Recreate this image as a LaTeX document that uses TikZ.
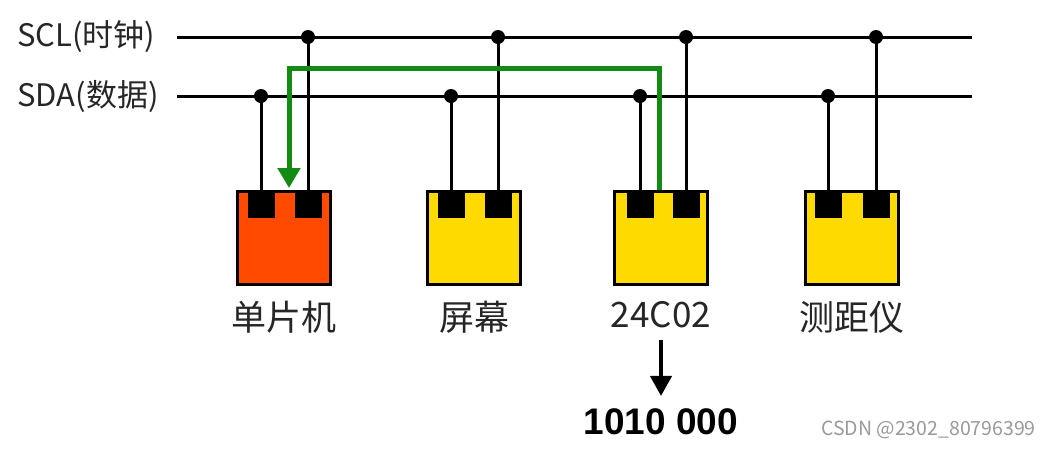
\documentclass[tikz,border=0pt]{standalone}
\usepackage{fontspec}
\setmainfont{Noto Sans CJK SC}
\newfontfamily\addrfont{Liberation Sans}
\usetikzlibrary{arrows.meta, positioning}
\definecolor{ChipRed}{HTML}{FF4A00}
\definecolor{ChipYellow}{HTML}{FFDA00}
\definecolor{WireGreen}{HTML}{138A13}
\definecolor{LabelGray}{HTML}{262626}
\definecolor{MarkGray}{HTML}{9A9A9A}
\tikzset{
    % Bus and wire styles
    busline/.style={
        draw=black,
        line width=3pt
    },
    wire/.style={
        draw=black,
        line width=3pt
    },
    tapdot/.style={
        circle,
        fill=black,
        inner sep=0pt,
        minimum size=14pt
    },
    % Chip styles
    chipbox/.style={
        rectangle,
        draw=black,
        line width=3pt,
        minimum width=93pt,
        minimum height=93pt
    },
    pinbox/.style={
        rectangle,
        fill=black,
        inner sep=0pt,
        minimum width=27pt,
        minimum height=26pt,
        anchor=north
    },
    % Text styles
    buslabel/.style={
        font=\fontsize{31}{34}\selectfont,
        text=LabelGray,
        inner sep=0pt
    },
    chiplabel/.style={
        font=\fontsize{35}{38}\selectfont,
        text=LabelGray,
        inner sep=0pt
    },
    addrlabel/.style={
        font=\addrfont\bfseries\fontsize{37}{40}\selectfont,
        text=black,
        inner sep=0pt
    },
    watermark/.style={
        font=\fontsize{19.5}{22}\selectfont,
        text=MarkGray,
        inner sep=0pt
    },
    % Arrow styles
    datapath/.style={
        draw=WireGreen,
        line width=5pt,
        -{Triangle[length=20pt,width=22pt]}
    },
    addrarrow/.style={
        draw=black,
        line width=4pt,
        -{Triangle[length=20pt,width=21pt]}
    }
}

\begin{document}
\begin{tikzpicture}[x=1pt,y=-1pt]
    \fill[white] (0,0) rectangle (1051,448);
    \useasboundingbox (0,0) rectangle (1051,448);

    % Bus lines
    \coordinate (sclstart) at (177,37);
    \coordinate (sclend) at (972,37);
    \coordinate (sdastart) at (177,96);
    \coordinate (sdaend) at (972,96);
    \draw[busline] (sclstart) -- (sclend);
    \draw[busline] (sdastart) -- (sdaend);
    \node[buslabel, anchor=west] (scllabel) at (17,37) {SCL(时钟)};
    \node[buslabel, anchor=west] (sdalabel) at (17,96) {SDA(数据)};

    % Chips
    \node[chipbox, fill=ChipRed] (mcu) at (284,238) {};
    \node[chipbox, fill=ChipYellow] (screen) at (474,238) {};
    \node[chipbox, fill=ChipYellow] (eeprom) at (661,238) {};
    \node[chipbox, fill=ChipYellow] (ranger) at (852,238) {};

    % Pins
    \node[pinbox] (mcusda) at ([xshift=-23pt,yshift=-1.5pt]mcu.north) {};
    \node[pinbox] (mcuscl) at ([xshift=24pt,yshift=-1.5pt]mcu.north) {};
    \node[pinbox] (screensda) at ([xshift=-23pt,yshift=-1.5pt]screen.north) {};
    \node[pinbox] (screenscl) at ([xshift=24pt,yshift=-1.5pt]screen.north) {};
    \node[pinbox] (eepromsda) at ([xshift=-21pt,yshift=-1.5pt]eeprom.north) {};
    \node[pinbox] (eepromscl) at ([xshift=25pt,yshift=-1.5pt]eeprom.north) {};
    \node[pinbox] (rangersda) at ([xshift=-24pt,yshift=-1.5pt]ranger.north) {};
    \node[pinbox] (rangerscl) at ([xshift=24pt,yshift=-1.5pt]ranger.north) {};

    % Taps on the bus
    \foreach \chip in {mcu, screen, eeprom, ranger} {
        \node[tapdot] (\chip sdadot) at (\chip sda |- sdastart) {};
        \node[tapdot] (\chip scldot) at (\chip scl |- sclstart) {};
        \draw[wire] (\chip sdadot.center) -- (\chip sda.north);
        \draw[wire] (\chip scldot.center) -- (\chip scl.north);
    }

    % Chip names
    \node[chiplabel, below=15pt of mcu] (mculabel) {单片机};
    \node[chiplabel, below=15pt of screen] (screenlabel) {屏幕};
    \node[chiplabel, below=15pt of eeprom] (eepromlabel) {24C02};
    \node[chiplabel, below=15pt of ranger] (rangerlabel) {测距仪};

    % Data path from 24C02 to the MCU
    \coordinate (pathtop) at (289,68);
    \draw[datapath] ([xshift=-2pt]eeprom.north) |- (pathtop) -| ([xshift=5pt,yshift=2pt]mcu.north);

    % Address
    \node[addrlabel, below=80pt of eepromlabel] (addr) {1010 000};
    \draw[addrarrow] ([yshift=-12pt]eepromlabel.south) -- ([yshift=12pt]addr.north);

    \node[watermark, anchor=east] (mark) at (1036,430) {CSDN @2302\_80796399};
\end{tikzpicture}
\end{document}
